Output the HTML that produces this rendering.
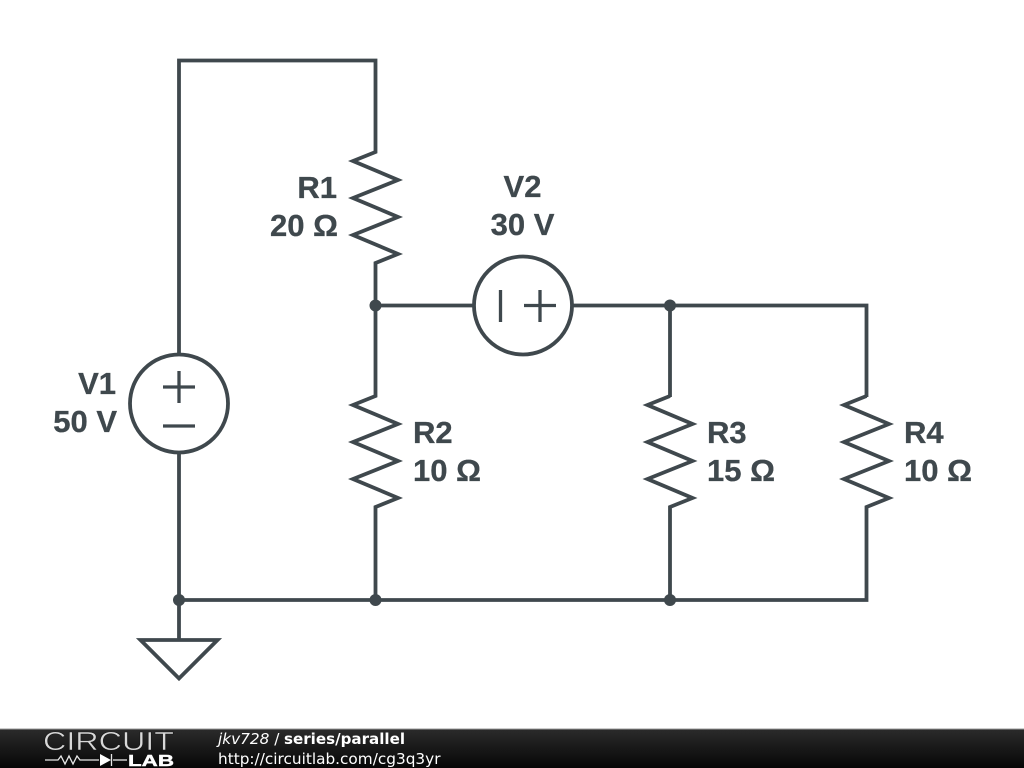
<!DOCTYPE html>
<html><head><meta charset="utf-8"><style>
html,body{margin:0;padding:0;background:#fff;width:1024px;height:768px;overflow:hidden}
svg{display:block}
.l{font-family:"Liberation Sans",sans-serif;font-weight:bold;font-size:31px;fill:#3f484d;stroke:#3f484d;stroke-width:0.3}
.f{font-family:"DejaVu Sans",sans-serif;font-size:15.3px;fill:#fff}
</style></head><body>
<svg width="1024" height="768" viewBox="0 0 1024 768" xmlns="http://www.w3.org/2000/svg">
<defs>
<linearGradient id="g" x1="0" y1="0" x2="0" y2="1"><stop offset="0" stop-color="#2b2b2b"/><stop offset="1" stop-color="#060606"/></linearGradient>
</defs>
<rect width="1024" height="768" fill="#fff"/>
<g fill="none" stroke="#3f484d" stroke-width="3.8" stroke-linejoin="miter">
<polyline points="179,354 179,60.5 375.5,60.5 375.5,152 353,161 398,180 353,198 398,217 353,235 398,254 375.5,263 375.5,396 353,405 398,424 353,442 398,461 353,479 398,498 375.5,507 375.5,600"/>
<line x1="375.5" y1="305.5" x2="474" y2="305.5"/>
<polyline points="572,305.5 866.5,305.5 866.5,397"/>
<line x1="670" y1="305.5" x2="670" y2="397"/>
<polyline points="670,396 647.5,405 692.5,424 647.5,442 692.5,461 647.5,479 692.5,498 670,507 670,600"/>
<polyline points="866.5,396 844,405 889,424 844,442 889,461 844,479 889,498 866.5,507 866.5,600 179,600"/>
<line x1="179" y1="453" x2="179" y2="640"/>
<polygon points="140.5,640 217.5,640 179,678.5"/>
<circle cx="179" cy="403.5" r="49"/>
<circle cx="523" cy="305.5" r="49"/>
<g stroke-width="3.3">
<line x1="163" y1="387" x2="195" y2="387"/><line x1="179" y1="371" x2="179" y2="403"/>
<line x1="163" y1="426" x2="195" y2="426"/>
<line x1="500.5" y1="290" x2="500.5" y2="322"/>
<line x1="524" y1="305.5" x2="556" y2="305.5"/><line x1="540" y1="290" x2="540" y2="322"/>
</g>
</g>
<g fill="#3f484d">
<circle cx="375.5" cy="305.5" r="6"/><circle cx="670" cy="305.5" r="6"/>
<circle cx="179" cy="600" r="6"/><circle cx="375.5" cy="600" r="6"/><circle cx="670" cy="600" r="6"/>
</g>
<g>
<text x="337" y="198" text-anchor="end" class="l">R1</text>
<text x="338" y="236" text-anchor="end" class="l">20 Ω</text>
<text x="522.5" y="197" text-anchor="middle" class="l">V2</text>
<text x="522.5" y="235" text-anchor="middle" class="l">30 V</text>
<text x="116" y="394" text-anchor="end" class="l">V1</text>
<text x="117" y="432" text-anchor="end" class="l">50 V</text>
<text x="413" y="443" class="l">R2</text>
<text x="413" y="481" class="l">10 Ω</text>
<text x="707" y="443" class="l">R3</text>
<text x="707" y="481" class="l">15 Ω</text>
<text x="904" y="443" class="l">R4</text>
<text x="904" y="481" class="l">10 Ω</text>
</g>
<rect x="0" y="729" width="1024" height="39" fill="url(#g)"/>
<line x1="0" y1="729" x2="1024" y2="729" stroke="#9a9a9a" stroke-width="1"/>
<text x="43" y="750" font-family="'Liberation Sans',sans-serif" font-size="25.5" fill="#d8d8d8" stroke="#161616" stroke-width="0.5" textLength="131" lengthAdjust="spacingAndGlyphs">CIRCUIT</text>
<g fill="none" stroke="#e8e8e8" stroke-width="1.3">
<polyline points="45,760 58,760 61,756 65,764 69,756 73,764 77,756 80,760 99,760"/>
<line x1="113" y1="760" x2="127" y2="760"/>
<line x1="111.5" y1="754" x2="111.5" y2="766"/>
</g>
<polygon points="100,754 111,760 100,766" fill="#fff"/>
<text x="128" y="766" font-family="'Liberation Sans',sans-serif" font-weight="bold" font-size="15.5" fill="#fff" stroke="#fff" stroke-width="0.4" textLength="46" lengthAdjust="spacingAndGlyphs">LAB</text>
<text x="218" y="744" class="f"><tspan font-style="italic">jkv728</tspan> /</text>
<text x="284" y="744" class="f" font-weight="bold" textLength="121" lengthAdjust="spacingAndGlyphs">series/parallel</text>
<text x="218" y="764" class="f">http://circuitlab.com/cg3q3yr</text>
</svg>
</body></html>
